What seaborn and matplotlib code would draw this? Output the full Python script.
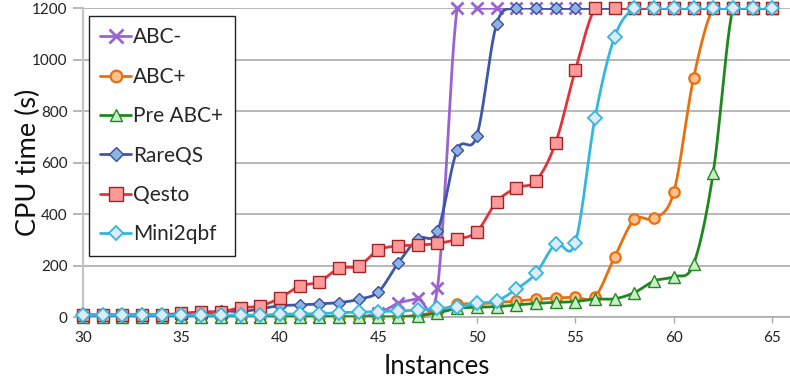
import numpy as np
import pandas as pd
import matplotlib
matplotlib.use("Agg")
import matplotlib.pyplot as plt
from matplotlib.lines import Line2D
import seaborn as sns

# ---------------- data ----------------
instances = list(range(30, 66))
abc_minus = [3]*15 + [15, 55, 74, 115] + [1200]*17
abc_plus = [2]*17 + [8, 22, 50, 52, 57, 63, 70, 75, 78, 80, 235, 380, 384, 486, 928] + [1200]*4
pre_abc_plus = [1]*17 + [6, 17, 35, 39, 41, 48, 54, 58, 61, 71, 72, 96, 141, 158, 206, 561] + [1200]*3
rareqs = [5]*6 + [10, 25, 22, 33, 45, 48, 52, 57, 70, 99, 210, 305, 335, 650, 706, 1139] + [1200]*14
qesto = [10, 10, 10, 10, 10, 15, 22, 22, 37, 44, 75, 121, 138, 190, 199, 261, 277, 280,
         287, 303, 333, 448, 503, 530, 678, 960] + [1200]*10
mini2qbf = [8]*10 + [12, 13, 14, 18, 20, 22, 25, 28, 35, 39, 54, 64, 109, 171, 285, 290, 775, 1090] + [1200]*8

series_names = ["ABC-", "ABC+", "Pre ABC+", "RareQS", "Qesto", "Mini2qbf"]
series_values = [abc_minus, abc_plus, pre_abc_plus, rareqs, qesto, mini2qbf]

styles = {
    "ABC-":     dict(color="#9B63CF", marker="x", ms=8.5, mfc="#9B63CF", mec="#9B63CF", mew=2.0),
    "ABC+":     dict(color="#E8700E", marker="o", ms=7.5, mfc="#FAC193", mec="#E8700E", mew=1.6),
    "Pre ABC+": dict(color="#1E881E", marker="^", ms=8, mfc="#C6EFC6", mec="#1E881E", mew=1.0),
    "RareQS":   dict(color="#3C58AA", marker="D", ms=6.3, mfc="#8DB3E2", mec="#3C4EA0", mew=1.0),
    "Qesto":    dict(color="#E2333D", marker="s", ms=8.5, mfc="#FF9A9A", mec="#9E2325", mew=1.0),
    "Mini2qbf": dict(color="#35B6DE", marker="D", ms=6.8, mfc="#DDEBF7", mec="#35B6DE", mew=1.3),
}


def smooth_curve(x, y, n=24):
    """Excel-like smoothed line (Catmull-Rom Bezier) through the data points."""
    p = np.column_stack([np.asarray(x, float), np.asarray(y, float)])
    out = []
    for i in range(len(p) - 1):
        p0 = p[i - 1] if i > 0 else p[i]
        p1 = p[i]
        p2 = p[i + 1]
        p3 = p[i + 2] if i + 2 < len(p) else p[i + 1]
        c1 = p1 + (p2 - p0) / 6.0
        c2 = p2 - (p3 - p1) / 6.0
        t = np.linspace(0, 1, n, endpoint=False)[:, None]
        seg = ((1 - t) ** 3) * p1 + 3 * ((1 - t) ** 2) * t * c1 + 3 * (1 - t) * t ** 2 * c2 + t ** 3 * p2
        out.append(seg)
    out.append(p[-1:])
    out = np.vstack(out)
    return out[:, 0], out[:, 1]


sns.set_theme(style="white")
plt.rcParams["font.family"] = ["Lato", "DejaVu Sans"]

fig = plt.figure(figsize=(7.9, 3.84), dpi=100)
ax = fig.add_axes([83 / 790, (384 - 317.3) / 384, 1 - 83 / 790, (317.3 - 8.3) / 384])

df = pd.DataFrame({"Instances": instances})
for name, vals in zip(series_names, series_values):
    df[name] = vals

z = 3
for name in series_names:
    st = styles[name]
    sx, sy = smooth_curve(df["Instances"], df[name])
    sdf = pd.DataFrame({"x": sx, "y": sy})
    sns.lineplot(data=sdf, x="x", y="y", ax=ax, color=st["color"], lw=2.0,
                 sort=False, estimator=None, zorder=z, clip_on=True)
    ax.plot(df["Instances"], df[name], linestyle="none", marker=st["marker"],
            ms=st["ms"], mfc=st["mfc"], mec=st["mec"], mew=st["mew"],
            zorder=z + 0.5, clip_on=False)
    z += 1

ax.set_xlim(30, 65.9)
ax.set_ylim(0, 1200)
ax.set_xticks([30, 35, 40, 45, 50, 55, 60, 65])
ax.set_yticks([0, 200, 400, 600, 800, 1000, 1200])
ax.grid(axis="y", color="#ABABAB", lw=1.2)
ax.grid(axis="x", visible=False)
ax.set_axisbelow(True)

for s in ["top", "right"]:
    ax.spines[s].set_visible(False)
ax.spines["left"].set_color("#C4C4C4")
ax.spines["left"].set_linewidth(1.6)
ax.spines["bottom"].set_color("#ABABAB")
ax.spines["bottom"].set_linewidth(1.2)

ax.tick_params(axis="y", which="major", left=True, length=7, width=1.2, color="#ABABAB",
               labelsize=11, labelcolor="#222222", pad=4)
ax.tick_params(axis="x", which="major", bottom=True, length=4, width=1.0, color="#ABABAB",
               labelsize=11, labelcolor="#222222", pad=6)

ax.set_xlabel("Instances", fontsize=18.5, color="#111111", labelpad=6)
ax.set_ylabel("CPU time (s)", fontsize=19.5, color="#111111")
ax.yaxis.set_label_coords(-0.06, 0.5)

handles = []
for name in series_names:
    st = styles[name]
    handles.append(Line2D([], [], color=st["color"], lw=2.0, marker=st["marker"],
                          ms=st["ms"] * 1.12, mfc=st["mfc"], mec=st["mec"], mew=st["mew"]))
leg = ax.legend(handles, series_names, loc="upper left", bbox_to_anchor=(0.0085, 0.975),
                borderaxespad=0, frameon=True, fancybox=False, fontsize=15,
                handlelength=1.45, handletextpad=0.12, labelspacing=0.93,
                borderpad=0.55, framealpha=1)
leg.get_frame().set_edgecolor("#222222")
leg.get_frame().set_linewidth(1.0)
leg.set_zorder(20)

fig.savefig("out.png", dpi=100)
